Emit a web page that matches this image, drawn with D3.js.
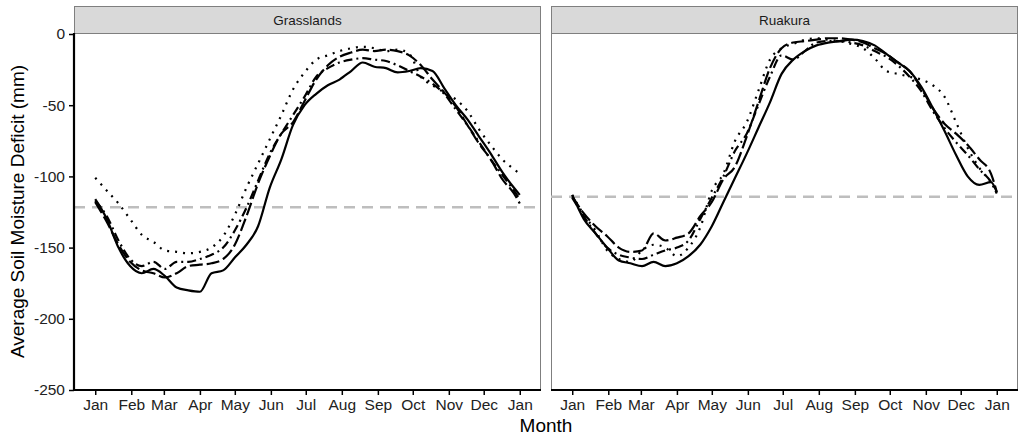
<!DOCTYPE html>
<html>
<head>
<meta charset="utf-8">
<script src="https://cdn.jsdelivr.net/npm/d3@7"></script>
<style>
  body { margin: 0; background: #fff; }
  svg { font-family: "Liberation Sans", Arial, sans-serif; }
</style>
</head>
<body>
<script>
// day of year for each sample
const days = [0, 10, 20, 30, 40, 50, 60, 70, 80, 90, 100, 110, 120, 130, 140, 150, 160, 170, 180,
  190, 200, 210, 220, 230, 240, 250, 260, 270, 280, 290, 300, 310, 320, 330, 340, 350, 360, 365];

const monthStarts = [0, 31, 59, 90, 120, 151, 181, 212, 243, 273, 304, 334, 365];
const monthLabels = ['Jan', 'Feb', 'Mar', 'Apr', 'May', 'Jun', 'Jul', 'Aug', 'Sep', 'Oct', 'Nov', 'Dec', 'Jan'];
const yTicks = [0, -50, -100, -150, -200, -250];

const sites = ['Grasslands', 'Ruakura'];
const thresholds = [-121.7, -114.3];

// Grasslands
const grassSolid = [-116, -130, -150, -163, -168, -165, -170, -178, -180, -181, -168, -166, -157, -148, -135, -108, -88, -64, -50,
  -42, -36, -32, -26, -20, -23, -24, -27, -26, -24, -26, -38, -50, -60, -72, -84, -97, -108, -113];
const grassDashed = [-118, -132, -148, -160, -166, -168, -171, -168, -163, -162, -161, -158, -148, -128, -105, -86, -70, -62, -47,
  -32, -22, -16, -13, -11, -12, -11, -12, -15, -22, -32, -41, -51, -64, -77, -88, -102, -112, -119];
const grassDotDash = [-117, -128, -145, -158, -163, -160, -165, -160, -160, -158, -155, -150, -138, -122, -103, -84, -70, -57, -44,
  -30, -24, -20, -18, -17, -18, -19, -22, -26, -30, -35, -42, -53, -64, -76, -88, -99, -110, -116];
const grassDotted = [-101, -110, -119, -130, -141, -146, -152, -153, -154, -153, -150, -142, -127, -108, -91, -74, -57, -39, -27,
  -18, -15, -12, -10, -9, -10, -12, -11, -14, -30, -36, -41, -46, -54, -67, -78, -88, -95, -98];

// Ruakura
const ruaSolid = [-113, -130, -140, -150, -159, -161, -163, -160, -163, -161, -156, -148, -135, -118, -101, -84, -66, -48, -28,
  -18, -12, -8, -6, -5, -4, -5, -8, -14, -20, -26, -37, -52, -68, -85, -100, -106, -104, -111];
const ruaDashed = [-114, -126, -135, -142, -150, -153, -152, -140, -145, -143, -140, -128, -118, -102, -93, -72, -48, -24, -10,
  -6, -5, -4, -3, -3, -4, -6, -10, -14, -20, -26, -38, -52, -63, -70, -78, -88, -98, -111];
const ruaDotDash = [-115, -128, -140, -150, -155, -157, -158, -155, -152, -150, -145, -130, -115, -100, -82, -70, -50, -30, -15,
  -18, -12, -6, -5, -5, -6, -8, -12, -16, -22, -30, -40, -54, -66, -76, -85, -95, -104, -112];
const ruaDotted = [-113, -127, -138, -152, -158, -160, -152, -148, -150, -156, -150, -136, -110, -98, -75, -62, -40, -18, -10,
  -7, -4, -3, -4, -5, -7, -10, -17, -26, -28, -30, -32, -36, -44, -62, -80, -94, -104, -110];

const lineStyles = ['none', '13,4', '9,4,2,4', '2,6'];
const panelSeries = [
  [grassSolid, grassDashed, grassDotDash, grassDotted],
  [ruaSolid, ruaDashed, ruaDotDash, ruaDotted]
];

const width = 1021, height = 436;
const panelLeft = [74, 551];
const panelWidth = 467;
const panelTop = 33, panelBottom = 390;
const stripTop = 6;

const svg = d3.select('body').append('svg')
  .attr('width', width)
  .attr('height', height);

const x = d3.scaleLinear()
  .domain([-18.25, 383.25])
  .range([0, panelWidth]);

const y = d3.scaleLinear()
  .domain([-250, 0])
  .range([panelBottom, 34]);

const line = d3.line()
  .x((d) => x(d[0]))
  .y((d) => y(d[1]))
  .curve(d3.curveMonotoneX);

sites.forEach((site, i) => {
  const g = svg.append('g')
    .attr('transform', 'translate(' + panelLeft[i] + ',0)');

  // strip
  g.append('rect')
    .attr('x', 0.5)
    .attr('y', stripTop + 0.5)
    .attr('width', panelWidth - 1)
    .attr('height', panelTop - stripTop)
    .attr('fill', '#d9d9d9')
    .attr('stroke', '#7f7f7f')
    .attr('stroke-width', 1);
  g.append('text')
    .attr('x', panelWidth / 2)
    .attr('y', 24.5)
    .attr('text-anchor', 'middle')
    .attr('font-size', 13.5)
    .attr('fill', '#1a1a1a')
    .text(site);

  // panel border
  g.append('rect')
    .attr('x', 0.5)
    .attr('y', panelTop + 0.5)
    .attr('width', panelWidth - 1)
    .attr('height', panelBottom - panelTop)
    .attr('fill', 'none')
    .attr('stroke', '#7f7f7f')
    .attr('stroke-width', 1);

  // threshold
  g.append('line')
    .attr('x1', 0)
    .attr('x2', panelWidth)
    .attr('y1', y(thresholds[i]))
    .attr('y2', y(thresholds[i]))
    .attr('stroke', '#bebebe')
    .attr('stroke-width', 2.6)
    .attr('stroke-dasharray', '11,7');

  // series
  panelSeries[i].forEach((vals, k) => {
    g.append('path')
      .datum(days.map((d, j) => [d, vals[j]]))
      .attr('d', line)
      .attr('fill', 'none')
      .attr('stroke', '#000')
      .attr('stroke-width', 2.2)
      .attr('stroke-dasharray', lineStyles[k]);
  });

  // x axis
  const xAxis = d3.axisBottom(x)
    .tickValues(monthStarts)
    .tickFormat((d, j) => monthLabels[j])
    .tickSizeInner(5)
    .tickSizeOuter(0)
    .tickPadding(4);
  const gx = g.append('g')
    .attr('transform', 'translate(0,' + panelBottom + ')')
    .call(xAxis);
  gx.select('.domain').remove();
  gx.selectAll('line').attr('stroke', '#000').attr('stroke-width', 1.5);
  gx.selectAll('text')
    .attr('font-size', 15.5)
    .attr('font-family', '"Liberation Sans", Arial, sans-serif')
    .attr('fill', '#222');
  g.append('line')
    .attr('x1', 0)
    .attr('x2', panelWidth)
    .attr('y1', panelBottom)
    .attr('y2', panelBottom)
    .attr('stroke', '#000')
    .attr('stroke-width', 2.2);

  if (i === 0) {
    const yAxis = d3.axisLeft(y)
      .tickValues(yTicks)
      .tickFormat((d) => String(d))
      .tickSizeInner(5)
      .tickSizeOuter(0)
      .tickPadding(4);
    const gy = g.append('g').call(yAxis);
    gy.select('.domain').remove();
    gy.selectAll('line').attr('stroke', '#000').attr('stroke-width', 1.5);
    gy.selectAll('text')
      .attr('font-size', 15.5)
      .attr('font-family', '"Liberation Sans", Arial, sans-serif')
      .attr('fill', '#222');
    g.append('line')
      .attr('x1', 0)
      .attr('x2', 0)
      .attr('y1', panelTop)
      .attr('y2', panelBottom + 1)
      .attr('stroke', '#000')
      .attr('stroke-width', 2.2);
  }
});

svg.append('text')
  .attr('x', (panelLeft[0] + panelLeft[1] + panelWidth) / 2)
  .attr('y', 432)
  .attr('text-anchor', 'middle')
  .attr('font-size', 19)
  .attr('fill', '#000')
  .text('Month');

svg.append('text')
  .attr('transform', 'translate(24,' + ((panelTop + panelBottom) / 2) + ') rotate(-90)')
  .attr('text-anchor', 'middle')
  .attr('font-size', 19)
  .attr('fill', '#000')
  .text('Average Soil Moisture Deficit (mm)');
</script>
</body>
</html>
